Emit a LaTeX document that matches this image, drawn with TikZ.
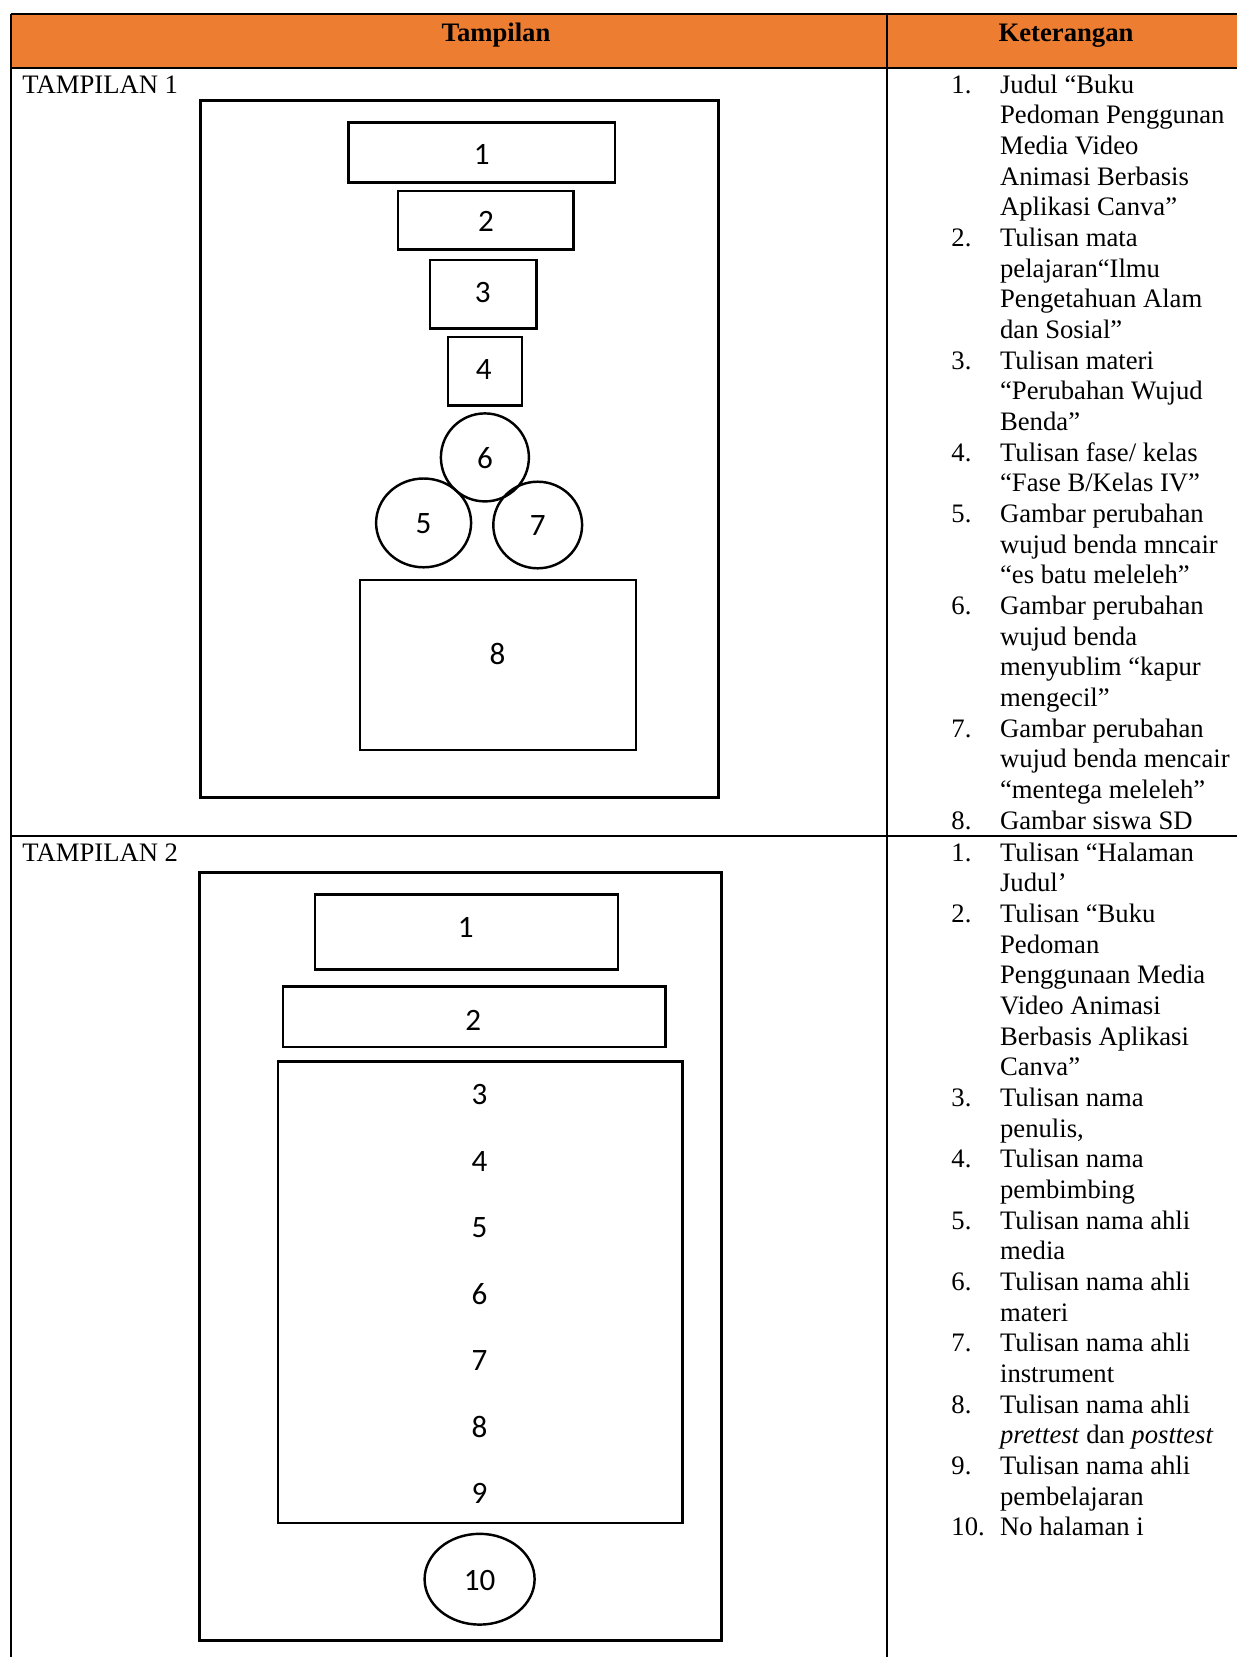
\documentclass[tikz,border=0pt]{standalone}
\usepackage{fontspec}
\setmainfont{Liberation Serif}
\newfontfamily\angka{Carlito}
\usepackage{tikz}
\usetikzlibrary{positioning}

\definecolor{oranye}{HTML}{ED7D31}

\tikzset{
  garis/.style={line width=0.9pt},
  kotak/.style={draw, line width=1.1pt, rectangle, inner sep=0pt, text height=10.4pt, font=\angka\fontsize{14}{16}\selectfont},
  bulat/.style={draw, line width=1.1pt, ellipse, inner sep=0pt, text height=9.8pt, font=\angka\fontsize{14}{16}\selectfont},
  angka/.style={inner sep=0pt, font=\angka\fontsize{14}{16}\selectfont},
  teks/.style={inner sep=0pt, anchor=base west, font=\fontsize{12}{13.8}\selectfont},
  judul/.style={inner sep=0pt, anchor=base, font=\bfseries\fontsize{12}{13.8}\selectfont}
}
\usetikzlibrary{shapes.geometric}

\begin{document}
\begin{tikzpicture}[x=0.45pt,y=-0.45pt]
  \useasboundingbox (0,0) rectangle (1237,1657);
  % kepala tabel
  \fill[oranye] (10.5,14) rectangle (1237,68);
  \draw[garis] (10.5,14) -- (1237,14) (10.5,68) -- (1237,68);
  \draw[garis] (10.5,14) -- (10.5,1657) (887,14) -- (887,1657);
  \draw[garis] (10.5,835.5) -- (1237,835.5);
  \node[judul] (hTampil) at (496,41) {Tampilan};
  \node[judul] (hKet) at (1066,41) {Keterangan};

  % tampilan 1
  \node[teks] (lbl1) at (22,93) {TAMPILAN 1};
  \draw[line width=1.1pt] (200.7,100.3) rectangle (718.3,797.5);
  \node[kotak, minimum width=266.2*0.45pt, minimum height=60.2*0.45pt] (a1) at (481.7,152.6) {1};
  \node[kotak, minimum width=175.4*0.45pt, minimum height=58.1*0.45pt] (a2) at (485.9,220.3) {2};
  \node[kotak, minimum width=106.7*0.45pt, minimum height=68.6*0.45pt] (a3) at (483.3,294.2) {};
  \node[angka] (a3t) at (482.7,293) {3};
  \node[kotak, minimum width=73.9*0.45pt, minimum height=68.6*0.45pt] (a4) at (484.9,371.3) {};
  \node[angka] (a4t) at (483.8,370) {4};
  \node[bulat, minimum width=88*0.45pt, minimum height=88*0.45pt] (a6) at (484.9,457.4) {6};
  \node[bulat, minimum width=95*0.45pt, minimum height=88.8*0.45pt] (a5) at (423.6,522.9) {5};
  \node[bulat, minimum width=88.8*0.45pt, minimum height=86.6*0.45pt] (a7) at (537.7,525) {7};
  \node[kotak, minimum width=275.7*0.45pt, minimum height=170.1*0.45pt] (a8) at (498,665) {};
  \node[angka] (a8t) at (497.5,653.5) {8};

  % tampilan 2
  \node[teks] (lbl2) at (22,861) {TAMPILAN 2};
  \draw[line width=1.1pt] (199.6,872.5) rectangle (721.5,1640.4);
  \node[kotak, minimum width=303.2*0.45pt, minimum height=75*0.45pt] (b1) at (466.4,932.2) {};
  \node[angka] (b1t) at (465.8,927.5) {1};
  \node[kotak, minimum width=382.4*0.45pt, minimum height=60.2*0.45pt] (b2) at (474.3,1016.7) {};
  \node[angka] (b2t) at (473.2,1020) {2};
  \node[kotak, minimum width=404.6*0.45pt, minimum height=461.6*0.45pt] (b3) at (480.1,1292.4) {};
  \foreach \n [count=\i from 0] in {3,...,9}
    \node[angka] (b\n) at (479.6,1094.5+\i*66.53) {\n};
  \node[bulat, minimum width=110*0.45pt, minimum height=90.8*0.45pt] (b10) at (479.6,1579.2) {10};

  % keterangan
  \node[teks] (ket1) at (951,93) {\begin{tabular}[t]{@{}p{21.9pt}@{}l@{}}
    1. & Judul “Buku\\
       & Pedoman Penggunan\\
       & Media Video\\
       & Animasi Berbasis\\
       & Aplikasi Canva”\\
    2. & Tulisan mata\\
       & pelajaran“Ilmu\\
       & Pengetahuan Alam\\
       & dan Sosial”\\
    3. & Tulisan materi\\
       & “Perubahan Wujud\\
       & Benda”\\
    4. & Tulisan fase/ kelas\\
       & “Fase B/Kelas IV”\\
    5. & Gambar perubahan\\
       & wujud benda mncair\\
       & “es batu meleleh”\\
    6. & Gambar perubahan\\
       & wujud benda\\
       & menyublim “kapur\\
       & mengecil”\\
    7. & Gambar perubahan\\
       & wujud benda mencair\\
       & “mentega meleleh”\\
    8. & Gambar siswa SD
  \end{tabular}};
  \node[teks] (ket2) at (951,861) {\begin{tabular}[t]{@{}p{21.9pt}@{}l@{}}
    1. & Tulisan “Halaman\\
       & Judul’\\
    2. & Tulisan “Buku\\
       & Pedoman\\
       & Penggunaan Media\\
       & Video Animasi\\
       & Berbasis Aplikasi\\
       & Canva”\\
    3. & Tulisan nama\\
       & penulis,\\
    4. & Tulisan nama\\
       & pembimbing\\
    5. & Tulisan nama ahli\\
       & media\\
    6. & Tulisan nama ahli\\
       & materi\\
    7. & Tulisan nama ahli\\
       & instrument\\
    8. & Tulisan nama ahli\\
       & \textit{prettest} dan \textit{posttest}\\
    9. & Tulisan nama ahli\\
       & pembelajaran\\
    10. & No halaman i
  \end{tabular}};
\end{tikzpicture}
\end{document}
